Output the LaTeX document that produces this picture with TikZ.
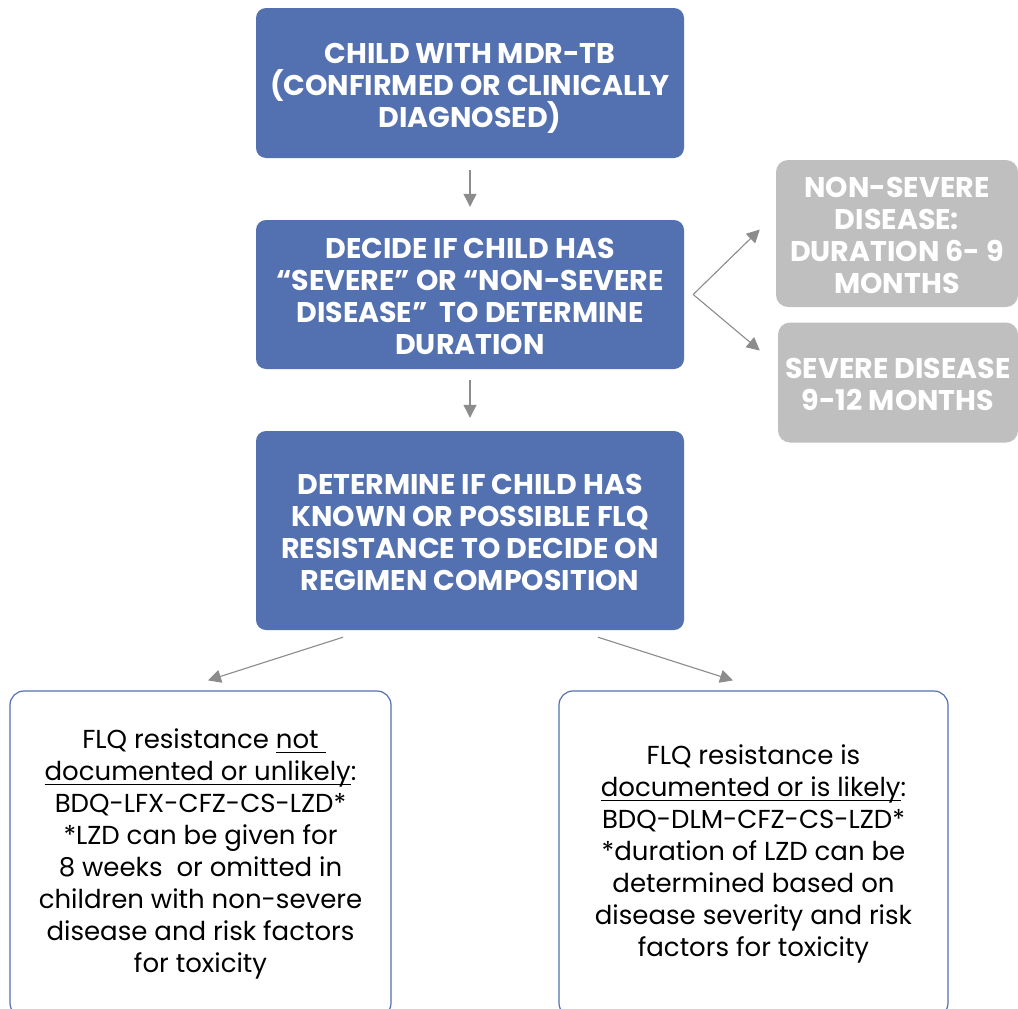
\documentclass[tikz,border=0pt]{standalone}
\usepackage{fontspec}
\setmainfont{Poppins}
\usetikzlibrary{positioning,arrows.meta,calc}
\definecolor{mdrblue}{RGB}{83,112,176}
\definecolor{optgray}{RGB}{191,191,191}
\definecolor{arrgray}{RGB}{140,140,140}
\newcommand{\ulfix}[1]{\setbox0\hbox{#1}\rlap{\rule[-4.5pt]{\wd0}{1.3pt}}#1}
\newcommand{\capstrut}[1]{\rule{0pt}{#1}}

\begin{document}
\begin{tikzpicture}[x=1pt,y=-1pt,
    stage/.style={rectangle,rounded corners=10pt,fill=mdrblue,text=white,
                  inner sep=0pt,minimum width=428pt,align=center,
                  font=\bfseries\fontsize{28.5}{32}\selectfont},
    option/.style={rectangle,rounded corners=12pt,fill=optgray,text=white,
                   inner sep=0pt,minimum width=242pt,align=center,
                   font=\bfseries\fontsize{28.5}{32}\selectfont},
    regimen/.style={rectangle,rounded corners=14pt,draw=mdrblue,line width=1.2pt,
                    fill=white,inner sep=0pt,minimum height=326pt,align=center,
                    font=\fontsize{26}{32}\selectfont},
    arr/.style={-{Triangle[length=13pt,width=13pt]},draw=arrgray,fill=arrgray,
                line width=1.1pt}
]

    \useasboundingbox (0,0) rectangle (1018,1009);
    \clip (0,0) rectangle (1018,1009);

    % main path
    \node[stage,minimum height=150pt] (child) at (470,83)
        {\capstrut{30pt}CHILD WITH MDR-TB\\(CONFIRMED OR CLINICALLY\\DIAGNOSED)};
    \node[stage,minimum height=149pt] (severity) at (470,294.5)
        {\capstrut{24pt}DECIDE IF CHILD HAS\\“SEVERE” OR “NON-SEVERE\\DISEASE”\ \ TO DETERMINE\\DURATION};
    \node[stage,minimum height=199pt] (flq) at (470,530.5)
        {\capstrut{24pt}DETERMINE IF CHILD HAS\\KNOWN OR POSSIBLE FLQ\\RESISTANCE TO DECIDE ON\\REGIMEN COMPOSITION};

    % duration options
    \node[option,minimum height=147pt] (nonsevere) at (897,233.5)
        {\capstrut{25pt}NON-SEVERE\\DISEASE:\\DURATION 6- 9\\MONTHS};
    \node[option,minimum height=120pt,minimum width=240pt] (severe) at (898,382.5)
        {\capstrut{25pt}SEVERE DISEASE\\9-12 MONTHS};

    % regimens
    \node[regimen,minimum width=381pt] (noflq) at (200.5,854)
        {FLQ resistance \ulfix{not\ }\\\ulfix{documented or unlikely}:\\BDQ-LFX-CFZ-CS-LZD*\\*LZD can be given for\\8 weeks\ \ or omitted in\\children with non-severe\\disease and risk factors\\for toxicity};
    \node[regimen,minimum width=389pt] (withflq) at (753.5,854)
        {FLQ resistance is\\\ulfix{documented or is likely}:\\BDQ-DLM-CFZ-CS-LZD*\\*duration of LZD can be\\determined based on\\disease severity and risk\\factors for toxicity};

    \draw[arr,shorten <=12pt,shorten >=13pt] (child) -- (severity);
    \draw[arr,shorten <=11pt,shorten >=13pt] (severity) -- (flq);

    \coordinate (fork) at ([xshift=9pt]severity.east);
    \coordinate (nsin) at ([xshift=-16pt,yshift=4pt]nonsevere.west);
    \coordinate (svin) at ([xshift=-18pt,yshift=32pt]severe.west);
    \draw[arr] (fork) -- (nsin);
    \draw[arr] (fork) -- (svin);

    \draw[arr] ([xshift=-127pt,yshift=-7pt]flq.south) -- ([xshift=7.5pt,yshift=10pt]noflq.north);
    \draw[arr] ([xshift=128pt,yshift=-7pt]flq.south) -- ([xshift=-20.5pt,yshift=10pt]withflq.north);

\end{tikzpicture}
\end{document}
